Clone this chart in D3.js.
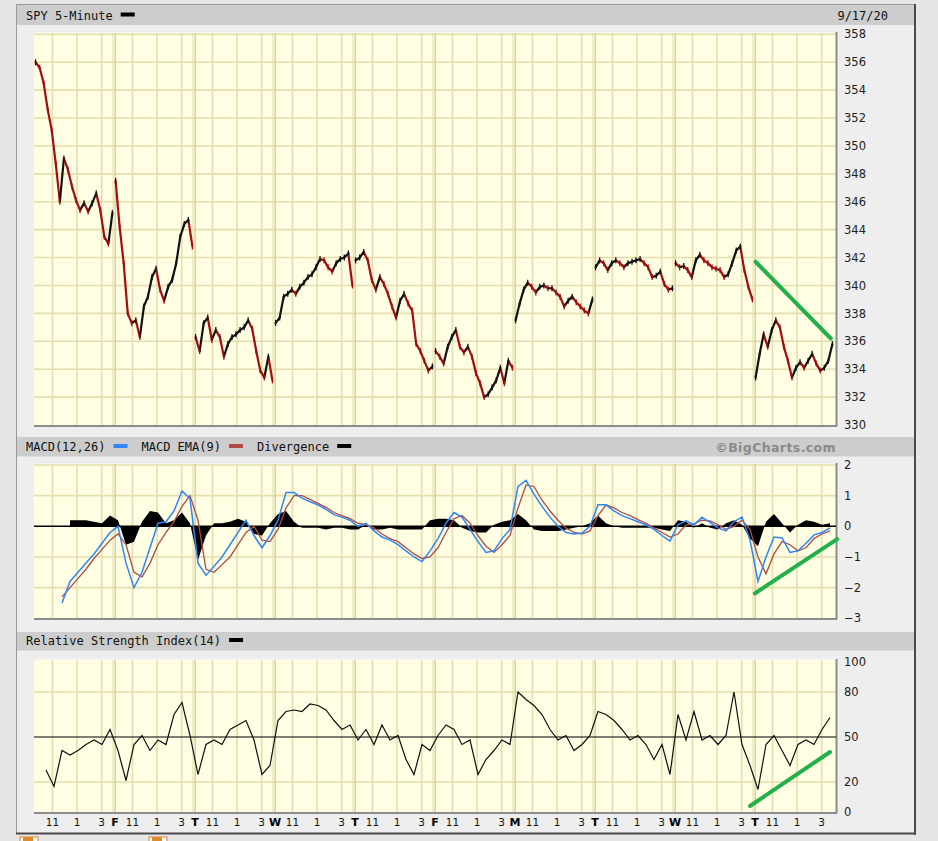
<!DOCTYPE html>
<html><head><meta charset="utf-8">
<script src="https://cdn.jsdelivr.net/npm/d3@7/dist/d3.min.js"></script>
<style>
html,body{margin:0;padding:0;background:#e6e6e6;}
svg{display:block}
</style></head><body>
<svg id="c" width="938" height="841"></svg>
<script>
// ---------------- DATA ----------------
const dayLetters = ["", "F", "T", "W", "T", "F", "M", "T", "W", "T"];
const hourLabels = ["11", "1", "3"];
const hourValues = [11, 13, 15];
const priceTicks = [330, 332, 334, 336, 338, 340, 342, 344, 346, 348, 350, 352, 354, 356, 358];
const macdTicks = [2, 1, 0, -1, -2, -3];
const rsiTicks = [100, 80, 50, 20, 0];
const chartDate = "9/17/20";

// SPY 5-minute closes, 20 readings per session (Thu 9/3 .. Thu 9/17)
const spyClose = [
  [356.0,355.6,354.5,352.6,351.1,348.7,346.0,349.1,348.3,347.1,346.1,345.4,345.9,345.3,345.9,346.6,345.4,343.5,343.0,345.2],
  [347.5,344.2,341.6,338.0,337.3,337.5,336.3,338.5,339.2,340.6,341.2,339.7,338.9,339.9,340.4,341.6,343.5,344.4,344.7,342.8],
  [336.3,335.3,337.3,337.7,336.1,336.8,336.3,334.9,335.8,336.3,336.5,336.8,337.0,337.5,336.9,335.3,333.9,333.4,334.9,333.2],
  [337.3,337.7,339.2,339.4,339.7,339.4,339.9,340.2,340.6,340.8,341.3,341.9,341.8,341.3,341.0,341.6,341.9,342.0,342.3,340.0],
  [341.8,342.0,342.4,341.8,340.4,339.7,340.6,340.1,339.4,338.5,337.7,338.9,339.4,338.7,338.2,335.8,335.3,334.6,333.9,334.2],
  [335.3,334.9,334.4,335.6,336.3,336.8,335.6,335.2,335.6,334.9,333.7,333.0,332.0,332.2,332.7,333.2,334.1,333.0,334.6,334.1],
  [337.5,338.7,339.7,340.2,339.9,339.5,339.9,340.0,339.8,339.8,339.5,339.2,338.5,338.9,339.2,338.8,338.5,338.2,338.0,339.0],
  [341.3,341.8,341.6,341.1,341.6,341.8,341.6,341.3,341.6,341.7,341.8,341.9,341.6,341.3,340.6,340.7,341.0,340.1,339.7,339.8],
  [341.6,341.3,341.4,341.1,340.6,341.8,342.2,341.8,341.6,341.3,341.2,341.1,340.6,340.8,341.6,342.5,342.8,341.1,339.9,339.0],
  [333.4,335.1,336.5,335.6,336.8,337.5,337.0,335.6,334.6,333.4,334.1,334.5,334.1,334.6,335.1,334.4,333.9,334.1,334.6,335.8]
];

// MACD(12,26), 10 readings per session
const macdLine = [
  null,null,null,-2.5,-1.8,-1.5,-1.2,-0.9,-0.55,-0.2,
  0.0,-1.2,-2.0,-1.5,-0.7,0.1,0.15,0.5,1.15,0.9,
  -1.2,-1.6,-1.3,-1.0,-0.6,-0.2,0.2,-0.3,-0.7,-0.3,
  0.2,1.1,1.1,0.92,0.8,0.7,0.55,0.38,0.3,0.2,
  0.0,0.1,-0.15,-0.35,-0.45,-0.6,-0.8,-1.0,-1.15,-0.8,
  -0.4,0.1,0.45,0.3,-0.1,-0.5,-0.85,-0.8,-0.4,-0.1,
  1.3,1.5,1.05,0.65,0.3,0.0,-0.2,-0.25,-0.22,0.0,
  0.7,0.7,0.5,0.35,0.25,0.15,0.05,-0.1,-0.3,-0.48,
  0.05,0.18,0.05,0.3,0.13,-0.05,-0.15,0.15,0.3,-0.45,
  -1.8,-1.0,-0.35,-0.38,-0.85,-0.8,-0.55,-0.28,-0.2,-0.05
];
// MACD EMA(9)
const macdSignal = [
  null,null,null,-2.3,-2.0,-1.7,-1.4,-1.05,-0.75,-0.45,
  -0.25,-0.6,-1.5,-1.65,-1.2,-0.6,-0.2,0.15,0.65,1.0,
  0.2,-1.4,-1.5,-1.25,-1.0,-0.6,-0.2,0.0,-0.45,-0.5,
  -0.1,0.6,1.0,1.0,0.88,0.75,0.62,0.45,0.35,0.25,
  0.1,0.05,-0.05,-0.25,-0.4,-0.5,-0.7,-0.9,-1.05,-1.0,
  -0.7,-0.2,0.25,0.35,0.1,-0.3,-0.65,-0.85,-0.6,-0.3,
  0.6,1.35,1.3,0.85,0.5,0.2,-0.05,-0.2,-0.25,-0.15,
  0.35,0.7,0.6,0.45,0.35,0.22,0.1,-0.05,-0.2,-0.35,
  -0.25,0.05,0.08,0.2,0.18,0.05,-0.1,0.0,0.2,-0.1,
  -1.0,-1.55,-0.9,-0.5,-0.6,-0.8,-0.7,-0.4,-0.25,-0.15
];
// Divergence histogram
const macdDivergence = [
  null,null,null,null,0.2,0.2,0.2,0.15,0.1,0.35,
  0.2,-0.6,-0.5,0.15,0.5,0.45,0.1,0.2,0.45,0.1,
  -1.1,-0.3,0.1,0.1,0.15,0.25,0.15,-0.25,-0.3,0.1,
  0.4,0.5,0.15,-0.05,-0.05,-0.05,-0.1,-0.05,-0.05,-0.1,
  -0.1,0.05,-0.1,-0.1,-0.05,-0.1,-0.1,-0.1,-0.1,0.2,
  0.25,0.25,0.2,-0.05,-0.15,-0.2,-0.2,0.05,0.15,0.2,
  0.4,0.2,-0.1,-0.15,-0.15,-0.15,-0.1,-0.05,0.0,0.1,
  0.35,0.1,0.0,-0.05,-0.05,-0.05,-0.05,-0.05,-0.1,-0.15,
  0.2,0.15,-0.05,0.1,-0.05,-0.1,0.1,0.2,0.05,-0.4,
  -0.65,0.15,0.4,0.1,-0.2,0.05,0.2,0.15,0.05,0.1
];
// RSI(14)
const rsi14 = [
  null,28,17,41,38,41,45,48,45,55,
  41,21,45,51,41,48,45,65,73,51,
  25,45,48,45,55,58,61,48,25,31,
  61,67,68,67,72,71,68,61,55,58,
  48,55,45,58,48,51,35,25,45,41,
  51,58,55,45,48,25,35,41,48,45,
  80,75,71,65,55,48,51,41,45,51,
  67,65,61,55,48,51,45,35,45,25,
  65,48,67,48,51,45,51,80,45,31,
  15,45,51,41,31,45,48,45,55,63
];

// hand-drawn trend annotations (day-position, value)
const priceTrendLine = [[9.02, 341.7], [9.96, 336.2]];
const macdTrendLine = [[9.01, -2.19], [10.04, -0.42]];
const rsiTrendLine = [[8.95, 4], [9.95, 40]];

// ---------------- LAYOUT ----------------
const svg = d3.select("#c");
const L = 34, R = 836, DAYS = 10;
const x = d3.scaleLinear().domain([0, DAYS]).range([L, 834]);
const yP = d3.scaleLinear().domain([330, 358]).range([425, 34.3]);
const yM = d3.scaleLinear().domain([-3, 2]).range([618.3, 465]);
const yR = d3.scaleLinear().domain([0, 100]).range([812, 662]);

const monoFont = "'DejaVu Sans Mono', 'Liberation Mono', monospace";
const sansFont = "'DejaVu Sans', Verdana, sans-serif";
const gridColor = "#e2deae";

// outer panel
svg.append("rect").attr("x", 17).attr("y", 4).attr("width", 899).attr("height", 830).attr("fill", "#eeeeee");
svg.append("line").attr("x1", 16.5).attr("x2", 16.5).attr("y1", 4).attr("y2", 834).attr("stroke", "#9a9a9a");
svg.append("line").attr("x1", 16).attr("x2", 916).attr("y1", 4.5).attr("y2", 4.5).attr("stroke", "#9a9a9a");
svg.append("line").attr("x1", 915).attr("x2", 915).attr("y1", 4).attr("y2", 835).attr("stroke", "#4a4a4a").attr("stroke-width", 2);
svg.append("line").attr("x1", 16).attr("x2", 916).attr("y1", 833.5).attr("y2", 833.5).attr("stroke", "#4a4a4a").attr("stroke-width", 2);

// little icons under the frame
[[20, 837], [149, 837]].forEach(([ix, iy]) => {
  svg.append("rect").attr("x", ix).attr("y", iy).attr("width", 18).attr("height", 6).attr("fill", "#fff").attr("stroke", "#d9822b").attr("stroke-width", 1);
  svg.append("rect").attr("x", ix + 3).attr("y", iy).attr("width", 10).attr("height", 4).attr("fill", "#e08a2c");
});

// header bars
function header(y0, h) {
  svg.append("rect").attr("x", 17).attr("y", y0).attr("width", 897).attr("height", h).attr("fill", "#cdcdcd");
}
header(5, 20);
header(437, 19.5);
header(632, 18.5);

function legend(items, baseY, startX) {
  let cx = startX;
  items.forEach(it => {
    const t = svg.append("text").attr("x", cx).attr("y", baseY).attr("font-family", monoFont)
      .attr("font-size", 12).attr("fill", "#111").text(it.label);
    const w = t.node().getComputedTextLength();
    cx += w + 8;
    svg.append("rect").attr("x", cx).attr("y", baseY - 7).attr("width", 14).attr("height", 4).attr("fill", it.color);
    cx += 14 + 14;
  });
}
legend([{label: "SPY 5-Minute", color: "#000"}], 19.5, 26);
legend([{label: "MACD(12,26)", color: "#2f86f6"}, {label: "MACD EMA(9)", color: "#b24a44"}, {label: "Divergence", color: "#000"}], 451, 26);
legend([{label: "Relative Strength Index(14)", color: "#000"}], 645, 26);

svg.append("text").attr("x", 888).attr("y", 19.5).attr("text-anchor", "end").attr("font-family", monoFont)
  .attr("font-size", 12).attr("fill", "#111").text(chartDate);
svg.append("text").attr("x", 836).attr("y", 452).attr("text-anchor", "end").attr("font-family", sansFont)
  .attr("font-weight", "bold").attr("font-size", 12.5).attr("letter-spacing", 0.4).attr("fill", "#8a8a8a").text("\u00A9BigCharts.com");

// plot panels
function panel(top, bottom, yScale, ticks, gridVals) {
  const g = svg.append("g");
  g.append("rect").attr("x", L).attr("y", top).attr("width", R - L).attr("height", bottom - top).attr("fill", "#fffee3");
  // horizontal grid
  gridVals.forEach(v => {
    g.append("line").attr("x1", L).attr("x2", R).attr("y1", yScale(v)).attr("y2", yScale(v))
      .attr("stroke", gridColor).attr("stroke-width", 1.6);
  });
  // vertical grid
  for (let d = 0; d < DAYS; d++) {
    hourValues.forEach(h => {
      const xx = x(d + (h - 9.5) / 6.5);
      g.append("line").attr("x1", xx).attr("x2", xx).attr("y1", top).attr("y2", bottom)
        .attr("stroke", gridColor).attr("stroke-width", 1.6);
    });
    if (d > 0) {
      const xb = x(d);
      g.append("line").attr("x1", xb - 1).attr("x2", xb - 1).attr("y1", top).attr("y2", bottom)
        .attr("stroke", gridColor).attr("stroke-width", 1);
      g.append("line").attr("x1", xb + 1.2).attr("x2", xb + 1.2).attr("y1", top).attr("y2", bottom)
        .attr("stroke", "#d8d4a0").attr("stroke-width", 1.6);
    }
  }
  // frame: light top/left, dark bottom/right
  g.append("line").attr("x1", L).attr("x2", R).attr("y1", top + 0.5).attr("y2", top + 0.5).attr("stroke", "#f6f6f0");
  g.append("line").attr("x1", L).attr("x2", R + 1).attr("y1", bottom + 0.5).attr("y2", bottom + 0.5).attr("stroke", "#8c8c8c").attr("stroke-width", 2);
  g.append("line").attr("x1", R + 0.5).attr("x2", R + 0.5).attr("y1", top).attr("y2", bottom + 1).attr("stroke", "#8c8c8c").attr("stroke-width", 2);
  // tick labels
  ticks.forEach(v => {
    g.append("text").attr("x", 844).attr("y", yScale(v)).attr("dy", "0.36em").attr("font-family", sansFont)
      .attr("font-size", 11.5).attr("fill", "#222").text(v < 0 ? "\u2212" + Math.abs(v) : v);
  });
  return g;
}

panel(32, 425.5, yP, priceTicks, priceTicks.slice(1, -1).concat([358]));
panel(463, 618.5, yM, macdTicks, [2, 1, -1, -2]);
panel(659, 812.5, yR, rsiTicks, [80, 20]);

// x-axis labels
for (let d = 0; d < DAYS; d++) {
  hourValues.forEach((h, i) => {
    svg.append("text").attr("x", x(d + (h - 9.5) / 6.5)).attr("y", 826).attr("text-anchor", "middle")
      .attr("font-family", sansFont).attr("font-size", 10.5).attr("fill", "#111").text(hourLabels[i]);
  });
  if (dayLetters[d]) {
    svg.append("text").attr("x", x(d) + 1).attr("y", 826).attr("text-anchor", "middle")
      .attr("font-family", sansFont).attr("font-weight", "bold").attr("font-size", 11).attr("fill", "#000").text(dayLetters[d]);
  }
}

// ---------------- PRICE ----------------
const pg = svg.append("g");
spyClose.forEach((day, d) => {
  const pts = day.map((v, k) => [x(d + 0.02 + 0.96 * k / (day.length - 1)), yP(v), v]);
  for (let k = 1; k < pts.length; k++) {
    const up = pts[k][2] >= pts[k - 1][2];
    pg.append("line").attr("x1", pts[k - 1][0]).attr("y1", pts[k - 1][1]).attr("x2", pts[k][0]).attr("y2", pts[k][1])
      .attr("stroke", up ? "#111" : "#a30d10").attr("stroke-width", 2.2).attr("stroke-linecap", "round");
  }
  // short vertical bars at each reading (high-low look)
  pts.forEach((p, k) => {
    const up = k === 0 || p[2] >= pts[k - 1][2];
    pg.append("line").attr("x1", p[0]).attr("x2", p[0]).attr("y1", p[1] - 3).attr("y2", p[1] + 3)
      .attr("stroke", up ? "#111" : "#a30d10").attr("stroke-width", 1.3);
  });
});

// ---------------- MACD ----------------
const tIdx = i => Math.floor(i / 10) + ((i % 10) + 0.5) / 10;
const mg = svg.append("g");
const divArea = d3.area().defined(d => d != null).x((d, i) => x(tIdx(i))).y0(yM(0)).y1(d => yM(d));
mg.append("path").datum(macdDivergence).attr("d", divArea).attr("fill", "#000");
mg.append("line").attr("x1", L).attr("x2", R).attr("y1", yM(0)).attr("y2", yM(0)).attr("stroke", "#000").attr("stroke-width", 1.5);
const mLine = d3.line().defined(d => d != null).x((d, i) => x(tIdx(i))).y(d => yM(d));
mg.append("path").datum(macdSignal).attr("d", mLine).attr("fill", "none").attr("stroke", "#b24a44").attr("stroke-width", 1.3);
mg.append("path").datum(macdLine).attr("d", mLine).attr("fill", "none").attr("stroke", "#2f86f6").attr("stroke-width", 1.5);

// ---------------- RSI ----------------
const rg = svg.append("g");
rg.append("line").attr("x1", L).attr("x2", R).attr("y1", yR(50)).attr("y2", yR(50)).attr("stroke", "#000").attr("stroke-width", 1.2);
rg.append("path").datum(rsi14).attr("d", d3.line().defined(d => d != null).x((d, i) => x(tIdx(i))).y(d => yR(d)))
  .attr("fill", "none").attr("stroke", "#111").attr("stroke-width", 1.2);

// ---------------- annotations ----------------
function trend(pts, yS) {
  svg.append("line").attr("x1", x(pts[0][0])).attr("y1", yS(pts[0][1])).attr("x2", x(pts[1][0])).attr("y2", yS(pts[1][1]))
    .attr("stroke", "#23b04a").attr("stroke-width", 4).attr("stroke-linecap", "round");
}
trend(priceTrendLine, yP);
trend(macdTrendLine, yM);
trend(rsiTrendLine, yR);
</script>
</body></html>
